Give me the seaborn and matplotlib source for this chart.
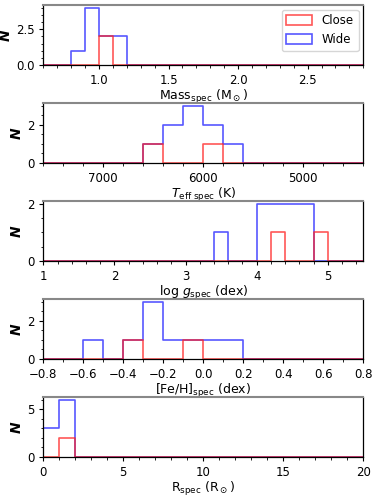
import matplotlib
matplotlib.use("Agg")
import matplotlib.pyplot as plt
import matplotlib.ticker as mtick
from matplotlib.patches import Patch
import pandas as pd
import seaborn as sns

# values (one entry per star, at bin centres)
mass_close = [1.05, 1.05]
mass_wide = [0.85, 0.95, 0.95, 0.95, 0.95, 1.05, 1.05, 1.15, 1.15]
teff_close = [6500, 5900]
teff_wide = [6500, 6300, 6300, 6100, 6100, 6100, 5900, 5900, 5700]
logg_close = [4.3, 4.9]
logg_wide = [3.5, 4.1, 4.1, 4.3, 4.3, 4.5, 4.5, 4.7, 4.7]
feh_close = [-0.35, -0.05]
feh_wide = [-0.55, -0.35, -0.25, -0.25, -0.25, -0.15, -0.05, 0.05, 0.15]
rad_close = [1.5, 1.5]
rad_wide = [0.5, 0.5, 0.5, 1.5, 1.5, 1.5, 1.5, 1.5, 1.5]

xlabels = [r'Mass$_{\rm spec}$ (M$_\odot$)',
           r'$T_{\rm eff\ spec}$ (K)',
           r'log $g_{\rm spec}$ (dex)',
           r'[Fe/H]$_{\rm spec}$ (dex)',
           r'R$_{\rm spec}$ (R$_\odot$)']

sns.set_style("ticks", {'axes.edgecolor': 'black', 'xtick.color': 'black',
                        'ytick.color': 'black', 'text.color': 'black',
                        'axes.labelcolor': 'black'})
plt.rcParams['font.family'] = ['DejaVu Sans']

# panel settings: data, bin width, bin range, xlim, major, minor, yticks
panels = [
    (mass_close, mass_wide, 0.1, (0.6, 2.9), (0.6, 2.9), 0.5, 0.1, [0, 2.5]),
    (teff_close, teff_wide, 200, (4400, 7600), (7600, 4400), 1000, 200, [0, 2]),
    (logg_close, logg_wide, 0.2, (1.0, 5.6), (1.0, 5.5), 1, 0.2, [0, 2]),
    (feh_close, feh_wide, 0.1, (-0.8, 0.8), (-0.8, 0.8), 0.2, 0.1, [0, 2]),
    (rad_close, rad_wide, 1, (0, 20), (0, 20), 5, 1, [0, 5]),
]

red = '#ff2020'
blue = '#2020ff'

fig = plt.figure(figsize=(3.74, 4.98), dpi=100)
bottoms_px = [65, 163, 261, 359, 457]
for i, (close, wide, bw, brange, xlim, major, minor, yt) in enumerate(panels):
    ax = fig.add_axes([43.3 / 374, 1 - bottoms_px[i] / 498, 320 / 374, 60 / 498])
    sns.histplot(x=wide, binwidth=bw, binrange=brange, element="step", fill=False,
                 color=blue, alpha=0.75, linewidth=1.2, ax=ax)
    sns.histplot(x=close, binwidth=bw, binrange=brange, element="step", fill=False,
                 color=red, alpha=0.75, linewidth=1.2, ax=ax)
    ax.set_xlim(*xlim)
    ax.set_ylim(bottom=0)
    ax.set_yticks(yt)
    if i == 0:
        ax.yaxis.set_major_formatter(mtick.FormatStrFormatter('%.1f'))
    ax.xaxis.set_major_locator(mtick.MultipleLocator(major))
    ax.xaxis.set_minor_locator(mtick.MultipleLocator(minor))
    ax.yaxis.set_minor_locator(mtick.AutoMinorLocator())
    ax.tick_params(labelsize=8.5, length=3, width=0.8)
    ax.tick_params(which='minor', length=1.8, width=0.6)
    ax.set_xlabel(xlabels[i], fontsize=9, labelpad=1)
    ax.set_ylabel('N', fontsize=10, fontstyle='italic', fontweight='bold', labelpad=2)
    for s in ax.spines.values():
        s.set_linewidth(0.9)
    ax.spines['top'].set_color('#888888')
    ax.spines['top'].set_linewidth(1.5)
    if i == 0:
        handles = [Patch(facecolor='none', edgecolor=red, alpha=0.75, linewidth=1.2),
                   Patch(facecolor='none', edgecolor=blue, alpha=0.75, linewidth=1.2)]
        ax.legend(handles, ['Close', 'Wide'], loc='upper right', fontsize=8.5,
                  handlelength=2.2, handleheight=0.9, borderaxespad=0.4)

fig.savefig("out.png", dpi=100)
